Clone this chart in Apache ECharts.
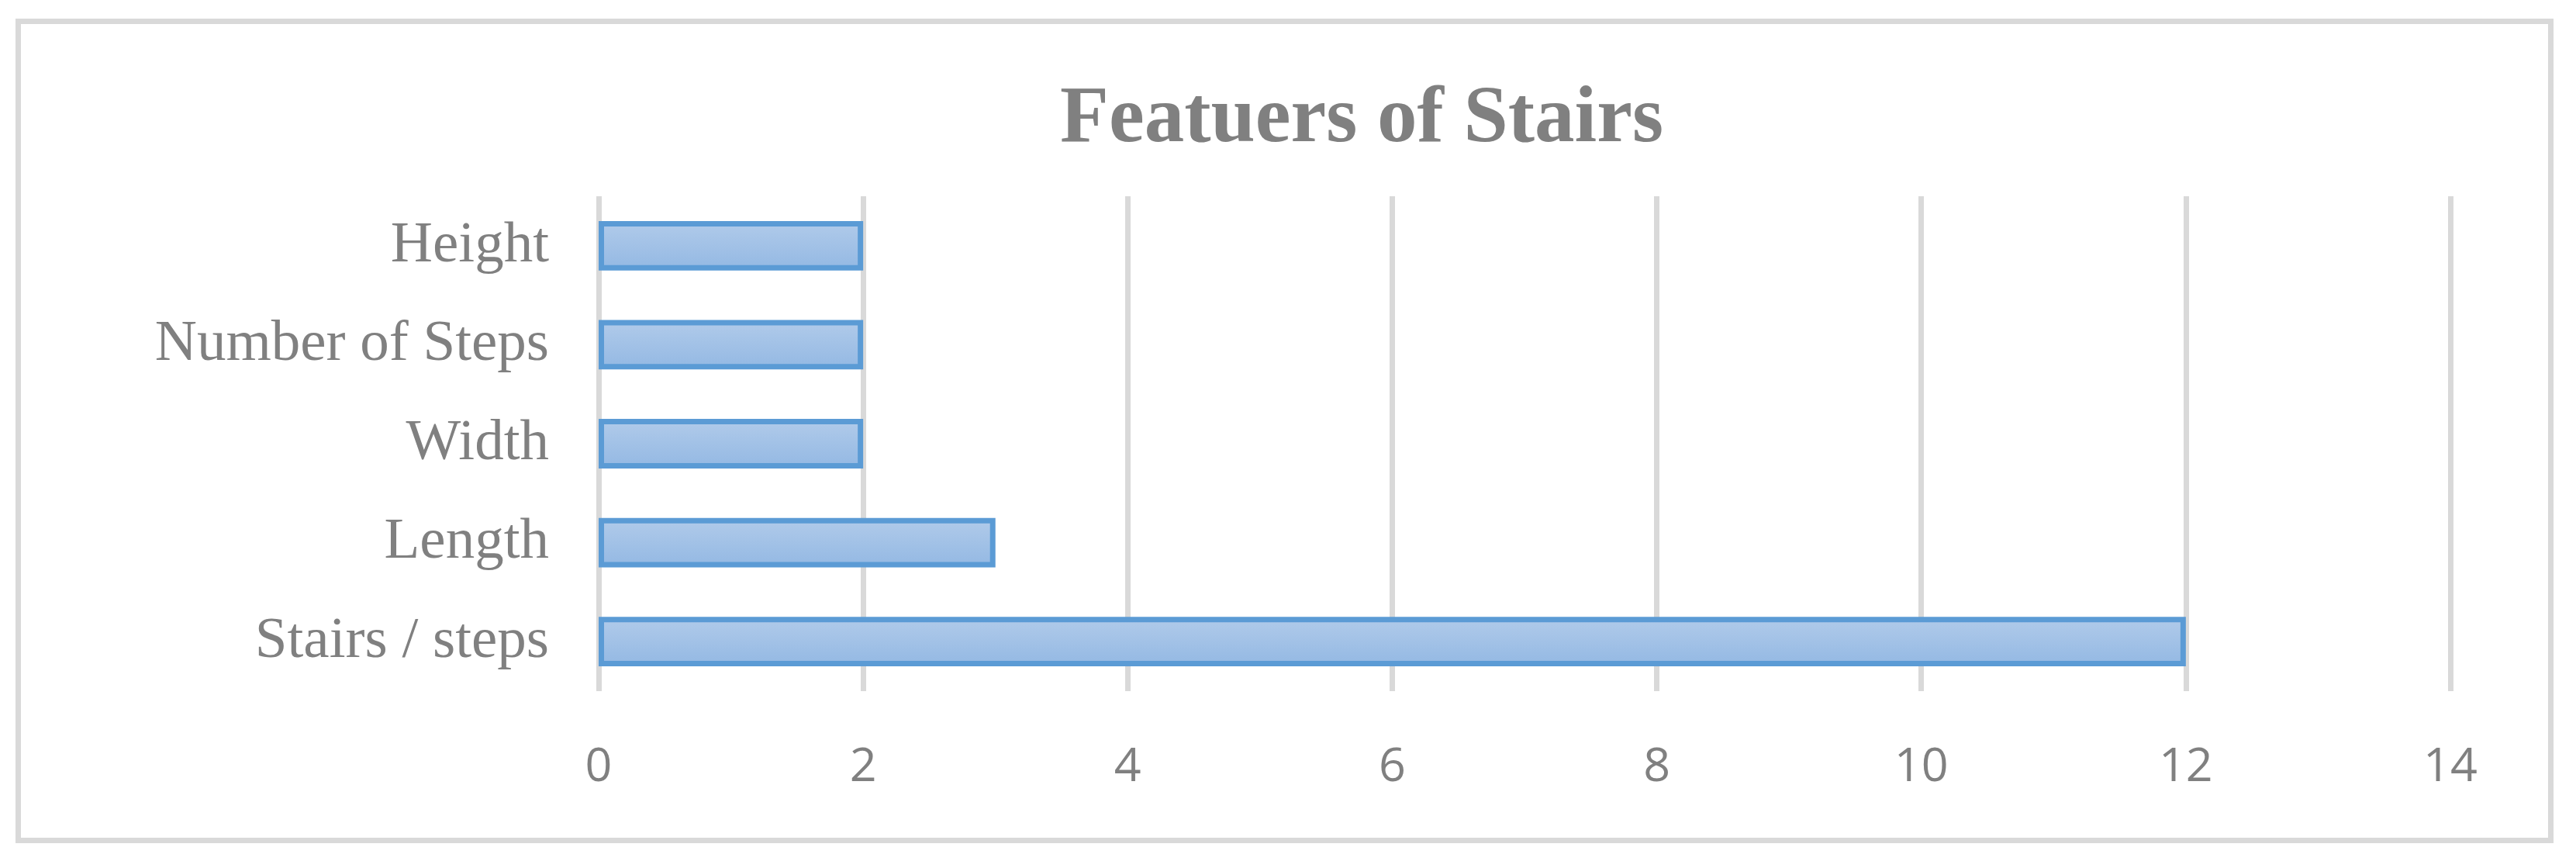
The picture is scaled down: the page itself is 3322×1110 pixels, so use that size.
<!DOCTYPE html>
<html>
<head>
<meta charset="utf-8">
<script src="https://cdn.jsdelivr.net/npm/echarts@6/dist/echarts.min.js"></script>
<style>
  html, body { margin: 0; padding: 0; background: #fff; }
  #main { width: 3322px; height: 1110px; }
</style>
</head>
<body>
<div id="main"></div>
<script>
  // data (bottom to top)
  const categories = ['Stairs / steps', 'Length', 'Width', 'Number of Steps', 'Height'];
  const counts = [12, 3, 2, 2, 2];
  const xTicks = { min: 0, max: 14, interval: 2 };

  const chart = echarts.init(document.getElementById('main'));

  chart.setOption({
    backgroundColor: '#fff',
    animation: false,
    title: {
      text: 'Featuers of Stairs',
      left: 1362,
      top: 99,
      textStyle: {
        fontFamily: 'Liberation Serif',
        fontWeight: 'bold',
        fontSize: 103,
        color: '#808080'
      }
    },
    // outer frame of the chart area
    graphic: [{
      type: 'rect',
      shape: { x: 23.5, y: 27.5, width: 3266, height: 1056 },
      style: { fill: 'none', stroke: '#d9d9d9', lineWidth: 7 },
      silent: true
    }],
    grid: { left: 772, right: 162, top: 253, bottom: 219 },
    xAxis: {
      type: 'value',
      min: xTicks.min,
      max: xTicks.max,
      interval: xTicks.interval,
      axisLine: { show: false },
      axisTick: { show: false },
      splitLine: { show: true, lineStyle: { color: '#d9d9d9', width: 7 } },
      axisLabel: {
        margin: 68,
        fontFamily: 'Open Sans',
        fontSize: 61,
        color: '#808080'
      }
    },
    yAxis: {
      type: 'category',
      data: categories,
      axisLine: { show: false },
      axisTick: { show: false },
      splitLine: { show: false },
      axisLabel: {
        margin: 64,
        fontFamily: 'Liberation Serif',
        fontSize: 75,
        color: '#808080'
      }
    },
    series: [{
      type: 'bar',
      data: counts,
      barCategoryGap: '50%',
      itemStyle: {
        color: new echarts.graphic.LinearGradient(0, 0, 0, 1, [
          { offset: 0, color: '#b1cbea' },
          { offset: 1, color: '#93b8e3' }
        ]),
        borderColor: '#5b9bd5',
        borderWidth: 7
      }
    }]
  });
</script>
</body>
</html>
